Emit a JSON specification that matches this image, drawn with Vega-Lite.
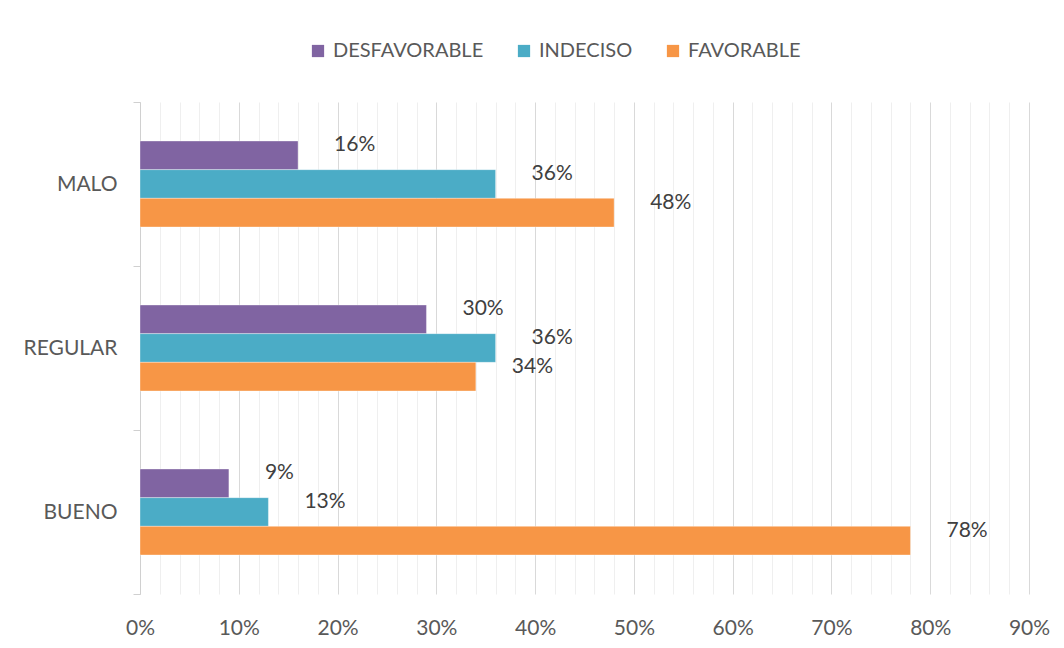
{
  "$schema": "https://vega.github.io/schema/vega-lite/v6.json",
  "autosize": {"type": "none"},
  "width": 889,
  "height": 492,
  "padding": {"left": 140, "top": 102, "right": 35, "bottom": 54},
  "background": "white",
  "config": {
    "view": {"stroke": null},
    "font": "Lato"
  },
  "data": {
    "values": [
      {"calificacion": "MALO", "opinion": "DESFAVORABLE", "valor": 0.16, "etiqueta": "16%"},
      {"calificacion": "MALO", "opinion": "INDECISO", "valor": 0.36, "etiqueta": "36%"},
      {"calificacion": "MALO", "opinion": "FAVORABLE", "valor": 0.48, "etiqueta": "48%"},
      {"calificacion": "REGULAR", "opinion": "DESFAVORABLE", "valor": 0.29, "etiqueta": "30%"},
      {"calificacion": "REGULAR", "opinion": "INDECISO", "valor": 0.36, "etiqueta": "36%"},
      {"calificacion": "REGULAR", "opinion": "FAVORABLE", "valor": 0.34, "etiqueta": "34%"},
      {"calificacion": "BUENO", "opinion": "DESFAVORABLE", "valor": 0.09, "etiqueta": "9%"},
      {"calificacion": "BUENO", "opinion": "INDECISO", "valor": 0.13, "etiqueta": "13%"},
      {"calificacion": "BUENO", "opinion": "FAVORABLE", "valor": 0.78, "etiqueta": "78%"}
    ]
  },
  "encoding": {
    "y": {
      "field": "calificacion",
      "type": "nominal",
      "sort": ["MALO", "REGULAR", "BUENO"],
      "scale": {"paddingInner": 0, "paddingOuter": 0},
      "axis": {
        "title": null,
        "tickBand": "extent",
        "domainColor": "#d0d0d0",
        "tickColor": "#d0d0d0",
        "tickSize": 7,
        "labelPadding": 16,
        "labelFont": "Lato",
        "labelFontSize": 21,
        "labelColor": "#595959",
        "grid": false
      }
    },
    "yOffset": {
      "field": "opinion",
      "type": "nominal",
      "scale": {
        "domain": ["_arriba", "DESFAVORABLE", "INDECISO", "FAVORABLE", "_abajo"],
        "paddingInner": 0,
        "paddingOuter": 0.36
      }
    },
    "x": {
      "field": "valor",
      "type": "quantitative",
      "scale": {"domain": [0, 0.9], "nice": false, "zero": true},
      "axis": {
        "title": null,
        "values": [0, 0.02, 0.04, 0.06, 0.08, 0.1, 0.12, 0.14, 0.16, 0.18, 0.2, 0.22, 0.24, 0.26, 0.28, 0.3, 0.32, 0.34, 0.36, 0.38, 0.4, 0.42, 0.44, 0.46, 0.48, 0.5, 0.52, 0.54, 0.56, 0.58, 0.6, 0.62, 0.64, 0.66, 0.68, 0.7, 0.72, 0.74, 0.76, 0.78, 0.8, 0.82, 0.84, 0.86, 0.88, 0.9],
        "labelExpr": "round(datum.value*100) % 10 == 0 ? format(datum.value, '.0%') : ''",
        "labelOverlap": false,
        "labelFlush": false,
        "labelFont": "Lato",
        "labelFontSize": 21,
        "labelColor": "#595959",
        "labelPadding": 23,
        "ticks": false,
        "tickSize": 0,
        "domain": false,
        "grid": true,
        "gridWidth": 1,
        "gridColor": {
          "condition": {"test": "round(datum.value*100) % 10 == 0", "value": "#d9d9d9"},
          "value": "#efefef"
        }
      }
    }
  },
  "layer": [
    {
      "mark": {"type": "bar", "stroke": "#ffffff", "strokeOpacity": 0.35, "strokeWidth": 1},
      "encoding": {
        "color": {
          "field": "opinion",
          "type": "nominal",
          "scale": {
            "domain": ["DESFAVORABLE", "INDECISO", "FAVORABLE"],
            "range": ["#8064a2", "#4bacc6", "#f79646"]
          },
          "legend": {
            "title": null,
            "orient": "none",
            "direction": "horizontal",
            "legendX": 168,
            "legendY": -61,
            "symbolType": "square",
            "symbolSize": 150,
            "symbolStrokeWidth": 0,
            "symbolOpacity": 1,
            "labelFont": "Lato",
            "labelFontSize": 20,
            "labelColor": "#595959",
            "labelOffset": 5,
            "columnPadding": 30
          }
        }
      }
    },
    {
      "mark": {
        "type": "text",
        "align": "left",
        "baseline": "middle",
        "dx": 36,
        "dy": -10,
        "font": "Lato",
        "fontSize": 21,
        "color": "#404040"
      },
      "encoding": {
        "text": {"field": "etiqueta", "type": "nominal"}
      }
    }
  ]
}
